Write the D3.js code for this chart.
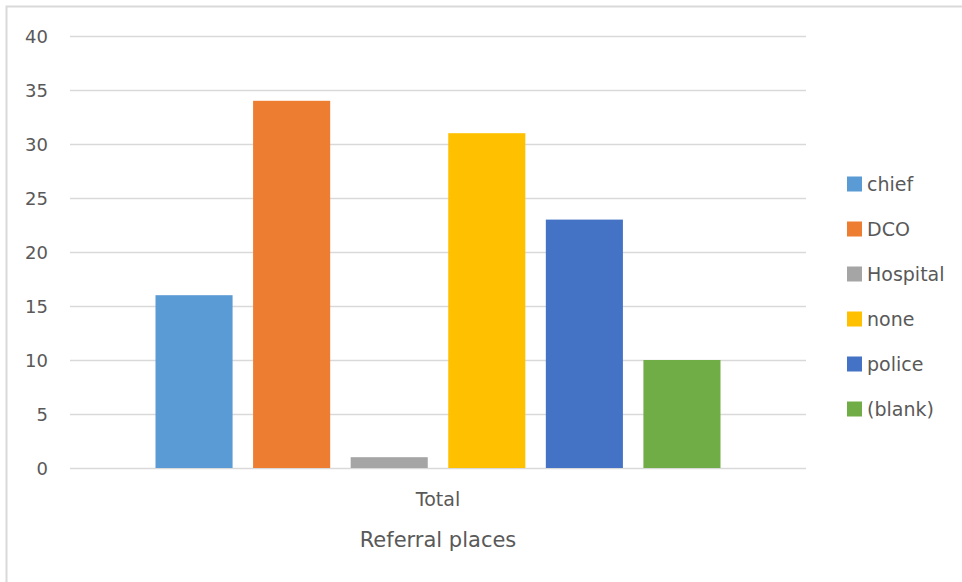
<!DOCTYPE html>
<html>
<head>
<meta charset="utf-8">
<script src="https://cdn.jsdelivr.net/npm/d3@7"></script>
<style>
  html, body { margin: 0; padding: 0; background: #fff; }
  svg { display: block; font-family: "DejaVu Sans", sans-serif; }
</style>
</head>
<body>
<svg id="chart" width="962" height="582"></svg>
<script>
// Referral places — counts per place
const categories = ["Total"];
const seriesNames = ["chief", "DCO", "Hospital", "none", "police", "(blank)"];
const seriesValues = [16, 34, 1, 31, 23, 10];
const seriesColors = ["#5B9BD5", "#ED7D31", "#A5A5A5", "#FFC000", "#4472C4", "#70AD47"];
const yTicks = [0, 5, 10, 15, 20, 25, 30, 35, 40];
const axisTitle = "Referral places";

const svg = d3.select("#chart");
const textColor = "#595959";
const gridColor = "#d9d9d9";

// chart frame
svg.append("rect")
  .attr("x", 6.5).attr("y", 6.5)
  .attr("width", 970).attr("height", 590)
  .attr("fill", "none").attr("stroke", gridColor).attr("stroke-width", 2);

const plot = { left: 70, right: 806, top: 36, bottom: 468 };

const y = d3.scaleLinear().domain([0, 40]).range([plot.bottom, plot.top]);

const x = d3.scaleBand().domain(categories).range([plot.left, plot.right]).paddingInner(0).paddingOuter(0);

// series positions inside the category band
const clusterInset = 85.5;
const xs = d3.scaleBand()
  .domain(seriesNames)
  .range([clusterInset, x.bandwidth() - clusterInset])
  .paddingInner(0.21)
  .paddingOuter(0);

// gridlines
svg.append("g")
  .selectAll("line")
  .data(yTicks)
  .join("line")
  .attr("x1", plot.left).attr("x2", plot.right)
  .attr("y1", d => y(d) + 0.5).attr("y2", d => y(d) + 0.5)
  .attr("stroke", gridColor).attr("stroke-width", 1.3);

// y axis labels
const yAxis = d3.axisLeft(y).tickValues(yTicks).tickSize(0).tickPadding(0);
svg.append("g")
  .attr("transform", `translate(48,0)`)
  .call(yAxis)
  .call(g => g.select(".domain").remove())
  .call(g => g.selectAll("text")
    .attr("fill", textColor)
    .attr("font-size", 18)
    .attr("font-family", "DejaVu Sans, sans-serif")
    .attr("dy", "0.35em"));

// bars
const data = seriesNames.map((name, i) => ({ name, value: seriesValues[i], color: seriesColors[i] }));
svg.append("g")
  .attr("transform", `translate(${x(categories[0])},0)`)
  .selectAll("rect")
  .data(data)
  .join("rect")
  .attr("x", d => xs(d.name))
  .attr("width", xs.bandwidth())
  .attr("y", d => y(d.value))
  .attr("height", d => y(0) - y(d.value))
  .attr("fill", d => d.color);

// x axis category label
const xAxis = d3.axisBottom(x).tickSize(0).tickPadding(0);
svg.append("g")
  .attr("transform", `translate(0,${plot.bottom})`)
  .call(xAxis)
  .call(g => g.select(".domain").remove())
  .call(g => g.selectAll("text")
    .attr("fill", textColor)
    .attr("font-size", 19)
    .attr("font-family", "DejaVu Sans, sans-serif")
    .attr("dy", 0)
    .attr("y", 38));

// axis title
svg.append("text")
  .attr("x", (plot.left + plot.right) / 2)
  .attr("y", 547)
  .attr("text-anchor", "middle")
  .attr("fill", textColor)
  .attr("font-size", 21)
  .text(axisTitle);

// legend
const legend = svg.append("g").attr("transform", "translate(847,0)");
const legendY = d3.scalePoint().domain(seriesNames).range([184, 409]);
const item = legend.selectAll("g")
  .data(data)
  .join("g")
  .attr("transform", d => `translate(0,${legendY(d.name)})`);
item.append("rect")
  .attr("x", 0).attr("y", -7.5)
  .attr("width", 15).attr("height", 15)
  .attr("fill", d => d.color);
item.append("text")
  .attr("x", 20).attr("y", 0)
  .attr("dy", "0.35em")
  .attr("fill", textColor)
  .attr("font-size", 19)
  .text(d => d.name);
</script>
</body>
</html>
